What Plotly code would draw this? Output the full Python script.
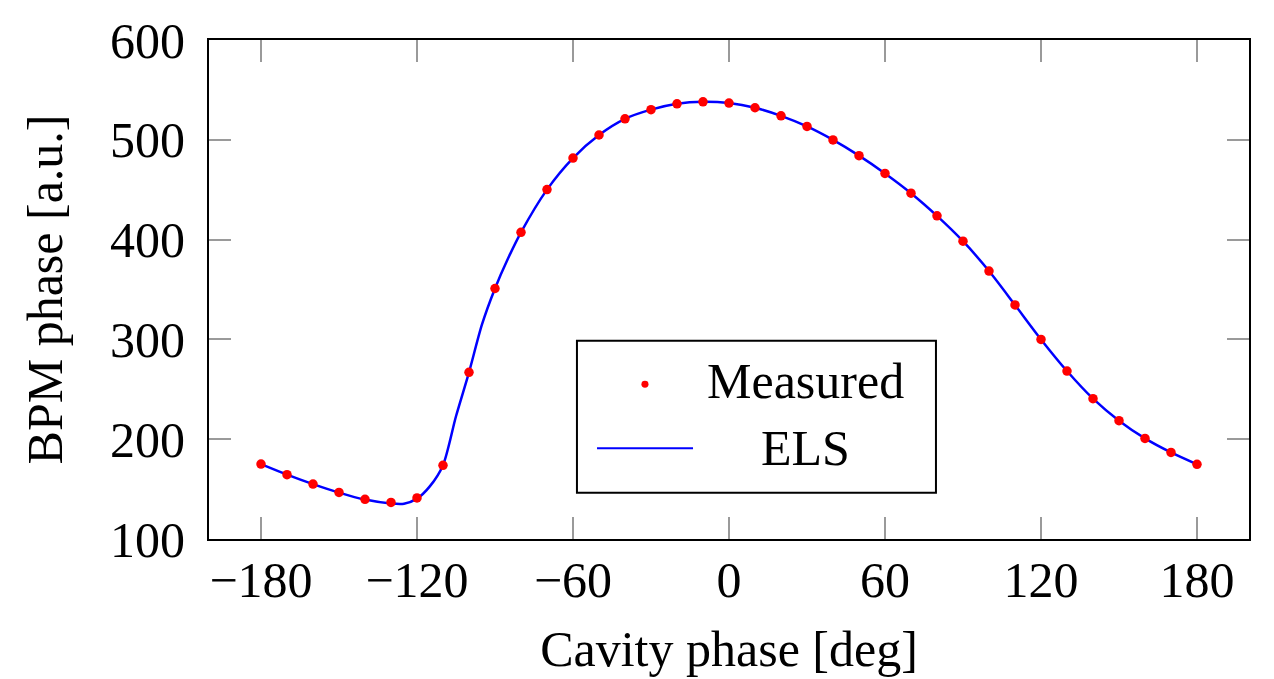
import plotly.graph_objects as go

# Measured BPM phase versus cavity phase
cavity_phase = [-180, -170, -160, -150, -140, -130, -120, -110, -100, -90,
                -80, -70, -60, -50, -40, -30, -20, -10, 0, 10,
                20, 30, 40, 50, 60, 70, 80, 90, 100, 110,
                120, 130, 140, 150, 160, 170, 180]
bpm_phase = [175.1, 164.5, 155.0, 146.7, 139.8, 136.6, 141.2, 173.8, 267.0, 351.0,
             407.3, 450.1, 481.7, 504.8, 521.0, 530.2, 536.1, 538.1, 536.8, 532.1,
             524.0, 513.4, 499.9, 484.1, 466.3, 446.5, 423.8, 398.4, 368.5, 334.5,
             300.0, 268.3, 240.6, 218.6, 200.8, 186.7, 174.8]

# ELS fit curve
els_phase = [-180, -170, -160, -150, -140, -130, -125, -120, -115, -110,
             -105, -100, -95, -90, -85, -80, -70, -60, -50, -40,
             -30, -20, -10, 0, 10, 20, 30, 40, 50, 60,
             70, 80, 90, 100, 110, 120, 130, 140, 150, 160,
             170, 180]
els_value = [175.0, 164.5, 155.0, 146.5, 139.5, 135.6, 135.4, 140.5, 153.0, 174.0,
             223.0, 267.0, 315.0, 351.0, 381.0, 407.3, 450.1, 481.7, 504.8, 521.0,
             530.2, 536.1, 538.1, 536.8, 532.1, 524.0, 513.4, 499.9, 484.1, 466.3,
             446.5, 423.8, 398.4, 368.5, 334.5, 300.0, 268.3, 240.6, 218.6, 200.8,
             186.7, 174.8]

x_ticks = [-180, -120, -60, 0, 60, 120, 180]
y_ticks = [100, 200, 300, 400, 500, 600]

FONT = "Liberation Serif"
RED = "#ff0000"
BLUE = "#0000ff"

fig = go.Figure()
fig.add_trace(go.Scatter(
    x=els_phase, y=els_value, mode="lines", name="ELS",
    line=dict(color=BLUE, width=2.5, shape="spline", smoothing=0.8),
    showlegend=False,
))
fig.add_trace(go.Scatter(
    x=cavity_phase, y=bpm_phase, mode="markers", name="Measured",
    marker=dict(color=RED, size=9.5),
    showlegend=False,
))

axis_common = dict(
    showline=True, linecolor="black", linewidth=2, mirror="allticks",
    ticks="inside", ticklen=22, tickwidth=1.5, tickcolor="#9a9a9a",
    showgrid=False, zeroline=False,
    tickfont=dict(family=FONT, size=50, color="black"),
)

fig.update_xaxes(
    range=[-200, 200], tickvals=x_ticks,
    title=dict(text="Cavity phase [deg]", font=dict(family=FONT, size=50, color="black"), standoff=24),
    ticklabelstandoff=-4,
    **axis_common,
)
fig.update_yaxes(
    range=[100, 600], tickvals=y_ticks,
    title=dict(text="BPM phase [a.u.]", font=dict(family=FONT, size=50, color="black"), standoff=32),
    ticklabelstandoff=12,
    **axis_common,
)

# Legend box drawn in paper coordinates
legend_shapes = [
    dict(type="rect", xref="paper", yref="paper", x0=0.3538, x1=0.699, y0=0.0929, y1=0.3972,
         line=dict(color="black", width=2), fillcolor="white", layer="above"),
    dict(type="circle", xref="paper", yref="paper", x0=0.4192 - 0.0034, x1=0.4192 + 0.0034,
         y0=0.3103 - 0.007, y1=0.3103 + 0.007, line=dict(width=0), fillcolor=RED, layer="above"),
    dict(type="line", xref="paper", yref="paper", x0=0.3731, x1=0.4654, y0=0.1818, y1=0.1818,
         line=dict(color=BLUE, width=2), layer="above"),
]
legend_labels = [
    dict(text="Measured", x=0.574, y=0.3162),
    dict(text="ELS", x=0.574, y=0.1818),
]
annotations = [
    dict(text=a["text"], x=a["x"], y=a["y"], xref="paper", yref="paper",
         xanchor="center", yanchor="middle", showarrow=False,
         font=dict(family=FONT, size=50, color="black"))
    for a in legend_labels
]

fig.update_layout(
    width=1274, height=679,
    margin=dict(l=209, r=25, t=35, b=138),
    paper_bgcolor="white", plot_bgcolor="white",
    shapes=legend_shapes, annotations=annotations,
    showlegend=False,
)

fig.write_html("out.html")
